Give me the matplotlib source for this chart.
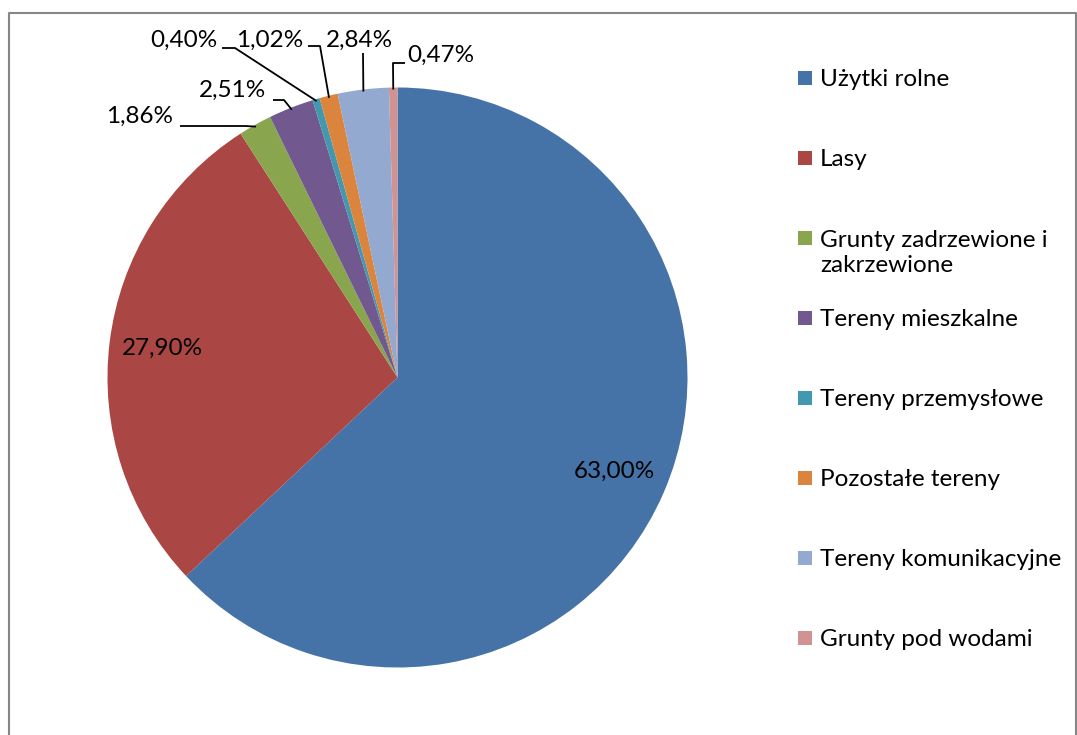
import numpy as np
import matplotlib
matplotlib.use("Agg")
import matplotlib.pyplot as plt
from matplotlib.patches import Rectangle

plt.rcParams['font.family'] = ['Lato', 'DejaVu Sans']

# struktura uzytkowania gruntow (%)
kategorie = ["Użytki rolne", "Lasy", "Grunty zadrzewione i\nzakrzewione", "Tereny mieszkalne",
             "Tereny przemysłowe", "Pozostałe tereny", "Tereny komunikacyjne", "Grunty pod wodami"]
udzialy = [63.00, 27.90, 1.86, 2.51, 0.40, 1.02, 2.84, 0.47]
kolory = ["#4572A7", "#AA4643", "#89A54E", "#71588F", "#4198AF", "#DB843D", "#93A9CF", "#D19392"]

W, H = 1077, 735
fig = plt.figure(figsize=(W / 100, H / 100), dpi=100)
ax = fig.add_axes([0, 0, 1, 1])

cx, cy, R = 397.5, H - 377.5, 290
wedges, _ = ax.pie(udzialy, colors=kolory, startangle=90, counterclock=False,
                   center=(cx, cy), radius=R, wedgeprops=dict(linewidth=0))
ax.set_xlim(0, W)
ax.set_ylim(0, H)
ax.axis('off')


def fmt(v):
    return f"{v:.2f}".replace(".", ",") + "%"


def kat(w):
    return np.deg2rad((w.theta1 + w.theta2) / 2)


fs = 17.5
# etykiety wewnatrz dwoch duzych wycinkow
for i in [0, 1]:
    a = kat(wedges[i])
    ax.text(cx + 0.815 * R * np.cos(a), cy + 0.815 * R * np.sin(a), fmt(udzialy[i]),
            ha='center', va='center', fontsize=fs)

# etykiety z liniami odniesienia dla malych wycinkow: (tekst x, y), punkty lamania linii
opisy = {
    2: ((140, 116), [(180, 126), (245, 126)]),
    3: ((232, 90), [(273, 100), (284, 100)]),
    4: ((184, 40), [(222, 48), (235, 48)]),
    5: ((270, 40), [(308, 46), (320, 46)]),
    6: ((359, 40), [(363, 53)]),
    7: ((441, 55), [(405, 63), (393, 63)]),
}
for i, ((tx, ty), pkt) in opisy.items():
    a = kat(wedges[i])
    ex, ey = cx + (R - 2) * np.cos(a), cy + (R - 2) * np.sin(a)
    xs = [p[0] for p in pkt] + [ex]
    ys = [H - p[1] for p in pkt] + [ey]
    ax.plot(xs, ys, color='black', lw=1.3, solid_capstyle='butt')
    ax.text(tx, H - ty, fmt(udzialy[i]), ha='center', va='center', fontsize=fs)

# legenda
ly = 78
for nazwa, kol in zip(kategorie, kolory):
    ax.add_patch(Rectangle((798, H - ly - 7), 14, 14, color=kol, lw=0))
    ty = ly + 14 * nazwa.count("\n")
    ax.text(820, H - ty - 1, nazwa, ha='left', va='center', fontsize=fs, linespacing=1.25)
    ly += 80

# ramka obszaru wykresu
ax.plot([8.5, 8.5, 1076, 1076], [0, H - 12.5, H - 12.5, 0], color='#868686', lw=1.5)

fig.savefig("out.png", dpi=100)
